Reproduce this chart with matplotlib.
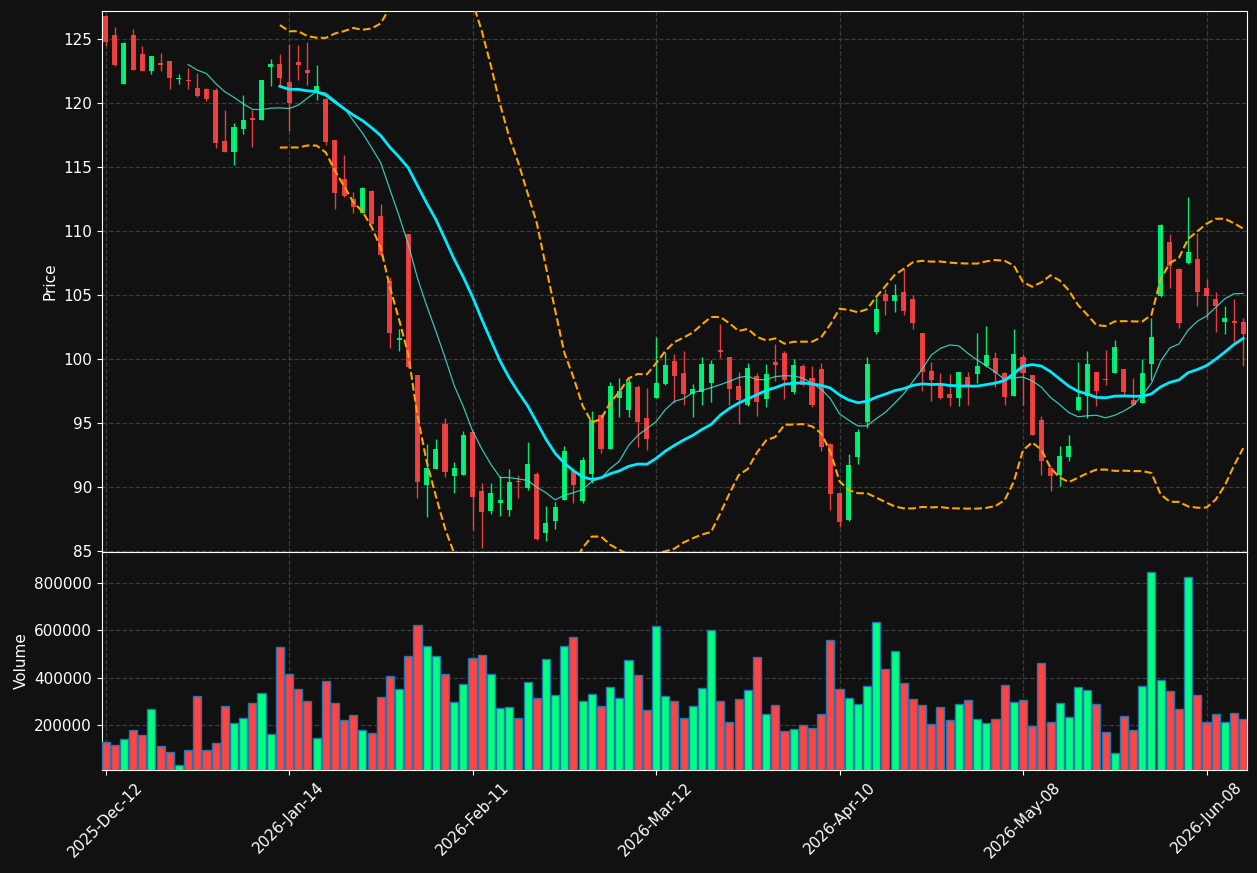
import numpy as np
import pandas as pd
import matplotlib
matplotlib.use("Agg")
import matplotlib.pyplot as plt
from matplotlib.ticker import FuncFormatter, FixedLocator

opens = [126.82, 125.33, 121.52, 125.33, 123.83, 122.53, 123.15, 123.29, 121.88, 121.82,
         121.20, 121.12, 121.04, 117.04, 116.20, 118.02, 118.84, 118.70, 122.86, 123.07,
         121.66, 123.21, 122.58, 120.90, 120.36, 117.13, 114.06, 112.48, 111.45, 113.13,
         111.18, 106.10, 101.49, 109.77, 98.77, 90.22, 91.44, 94.92, 90.90, 90.98,
         94.29, 89.68, 88.18, 88.81, 88.24, 90.52, 89.92, 91.03, 86.42, 87.37,
         89.00, 91.30, 88.91, 91.03, 95.65, 93.02, 97.01, 96.06, 97.82, 95.38,
         97.01, 98.09, 99.86, 98.91, 97.28, 97.47, 98.15, 100.73, 100.18, 97.90,
         96.46, 98.69, 96.87, 99.78, 100.48, 97.47, 99.45, 98.50, 99.23, 93.42,
         89.54, 87.42, 92.39, 95.11, 102.17, 105.07, 104.53, 105.23, 104.72, 102.03,
         99.12, 98.01, 97.28, 97.01, 98.64, 98.83, 99.45, 100.13, 98.91, 97.14,
         100.18, 98.77, 95.24, 91.50, 90.98, 92.39, 96.06, 97.14, 98.99, 98.45,
         98.96, 99.23, 96.82, 96.60, 99.67, 104.96, 109.14, 107.05, 107.54, 107.87,
         105.56, 104.69, 102.93, 102.98, 102.90]
highs = [126.90, 125.92, 124.75, 125.76, 124.43, 123.70, 123.89, 123.30, 122.26, 122.72,
         122.39, 121.15, 121.17, 119.49, 118.46, 120.63, 119.49, 121.85, 123.43, 123.83,
         124.65, 124.57, 124.76, 122.99, 120.40, 117.15, 115.93, 113.03, 113.45, 113.24,
         112.16, 106.43, 102.36, 109.80, 98.80, 93.40, 93.75, 95.38, 91.98, 94.43,
         94.30, 90.30, 90.30, 90.90, 91.44, 91.00, 93.53, 91.17, 88.51, 88.86,
         93.26, 91.50, 92.34, 96.00, 95.70, 98.23, 98.50, 98.55, 97.96, 97.77,
         101.76, 100.54, 100.40, 100.62, 98.09, 100.18, 99.91, 102.79, 100.20, 98.99,
         99.72, 98.91, 99.67, 101.22, 100.62, 99.99, 99.64, 99.45, 99.72, 93.45,
         89.55, 92.58, 94.56, 100.18, 104.88, 105.48, 105.91, 107.05, 105.02, 102.05,
         99.80, 98.91, 98.83, 99.00, 98.99, 102.08, 102.57, 100.54, 99.04, 102.36,
         100.40, 98.80, 95.57, 91.55, 93.21, 94.07, 99.80, 100.62, 99.00, 100.75,
         101.49, 99.25, 98.50, 99.99, 103.25, 110.53, 109.77, 107.10, 112.70, 109.90,
         106.24, 105.29, 104.20, 104.74, 103.25]
lows = [124.43, 122.88, 121.50, 122.60, 122.50, 122.31, 122.53, 121.12, 121.52, 121.12,
        120.50, 120.14, 116.47, 116.15, 115.14, 117.56, 116.56, 118.68, 121.31, 121.44,
        117.86, 121.85, 121.39, 120.28, 116.75, 111.75, 112.70, 111.45, 111.40, 110.55,
        108.10, 100.89, 100.62, 99.30, 89.13, 87.72, 91.40, 90.84, 89.54, 90.95,
        86.63, 85.25, 87.91, 87.77, 87.77, 89.13, 89.76, 85.87, 85.79, 86.77,
        88.98, 88.78, 88.78, 90.35, 92.66, 93.00, 95.51, 95.46, 93.12, 92.93,
        96.98, 97.96, 96.55, 96.46, 95.46, 96.41, 96.68, 100.07, 96.41, 94.97,
        96.33, 95.57, 96.27, 98.28, 96.87, 97.28, 97.90, 96.27, 92.85, 88.24,
        86.88, 87.40, 91.85, 94.62, 101.98, 103.44, 103.66, 103.47, 102.36, 97.50,
        96.73, 96.87, 96.33, 96.33, 96.46, 98.17, 99.40, 97.82, 96.46, 97.10,
        96.46, 94.05, 90.98, 89.68, 90.14, 92.04, 96.00, 95.38, 96.33, 97.96,
        98.90, 97.28, 96.43, 96.55, 98.36, 104.90, 105.56, 102.44, 107.41, 104.15,
        103.12, 102.17, 101.95, 101.35, 99.45]
closes = [124.78, 123.02, 124.70, 122.61, 122.53, 123.70, 123.02, 121.99, 121.96, 121.77,
          120.57, 120.33, 116.88, 116.20, 118.13, 118.70, 118.65, 121.82, 123.07, 121.99,
          120.03, 123.02, 122.37, 121.33, 116.96, 112.97, 112.75, 111.89, 113.41, 110.58,
          108.17, 102.03, 101.70, 99.37, 90.44, 91.50, 92.99, 91.22, 91.50, 94.07,
          89.27, 88.10, 89.59, 89.00, 90.41, 90.41, 91.82, 85.96, 87.20, 88.45,
          92.80, 90.16, 92.12, 95.24, 93.02, 97.90, 97.50, 98.23, 95.11, 93.80,
          98.15, 99.53, 98.72, 97.28, 97.69, 99.67, 99.64, 100.56, 97.69, 96.79,
          99.31, 96.68, 98.85, 99.59, 98.36, 99.53, 97.96, 96.46, 93.12, 89.49,
          87.31, 91.77, 94.35, 99.67, 103.93, 104.55, 104.99, 103.79, 102.84, 99.04,
          98.36, 97.01, 97.01, 98.99, 98.01, 99.45, 100.32, 98.91, 97.09, 100.40,
          98.91, 94.10, 92.07, 90.90, 92.45, 93.21, 97.06, 99.67, 97.55, 98.36,
          100.94, 97.41, 96.46, 98.91, 101.76, 110.45, 107.32, 102.84, 108.36, 105.29,
          104.96, 104.15, 103.22, 102.84, 101.98]
volumes = [127700, 114900, 140400, 177300, 157400, 268100, 110600, 85100, 29800, 93600,
           323400, 93600, 123400, 280800, 208500, 229800, 293600, 336200, 161700, 527600,
           417000, 353200, 302100, 144700, 387200, 293600, 221300, 242500, 178700, 166000,
           319100, 408500, 353200, 489300, 621300, 531900, 489300, 417000, 297900, 374500,
           480800, 493600, 417000, 272300, 276600, 229800, 383000, 314900, 476600, 327700,
           531900, 570200, 302100, 331900, 278000, 361700, 314900, 472300, 412800, 263800,
           617000, 323400, 302100, 229800, 280800, 357400, 600000, 302100, 212800, 310600,
           348900, 485100, 246800, 285100, 174500, 183000, 200000, 187200, 246800, 557400,
           353200, 314900, 289400, 366000, 634000, 438300, 510600, 378700, 310600, 285100,
           204200, 276600, 221300, 289400, 306400, 225500, 208500, 225500, 370200, 297900,
           306400, 195700, 463800, 212800, 293600, 234000, 361700, 348900, 289400, 170200,
           80800, 238300, 178700, 366000, 846800, 391500, 344700, 268100, 825500, 327700,
           212800, 246800, 212800, 251100, 225500]
tick_labels = ['2025-Dec-12', '2026-Jan-14', '2026-Feb-11', '2026-Mar-12',
               '2026-Apr-10', '2026-May-08', '2026-Jun-08']
tick_every = 20

BG = '#111111'
UP = '#00ff7f'
DOWN = '#ff4444'

o = np.array(opens); h = np.array(highs); l = np.array(lows); c = np.array(closes)
v = np.array(volumes, dtype=float)
n = len(c)
x = np.arange(n)
up = c >= o

cs = pd.Series(c)
ma10 = cs.rolling(10).mean()
ma20 = cs.rolling(20).mean()
sd20 = cs.rolling(20).std(ddof=0)
bb_up = ma20 + 2 * sd20
bb_lo = ma20 - 2 * sd20

fig = plt.figure(figsize=(12.57, 8.73), dpi=100, facecolor=BG)
ax = fig.add_axes([0.0809, 0.3677, 0.9109, 0.6197], facecolor=BG)
axv = fig.add_axes([0.0809, 0.1180, 0.9109, 0.2497], facecolor=BG, sharex=ax)

colors = np.where(up, UP, DOWN)
ax.vlines(x, l, h, colors=colors, linewidth=1.0, alpha=0.9, zorder=2)
body_bot = np.minimum(o, c)
body_h = np.maximum(np.abs(c - o), 0.06)
ax.bar(x, body_h, bottom=body_bot, width=0.55, color=colors, alpha=0.9,
       linewidth=0, zorder=3)

ax.plot(x, ma10, color='#40e0d0', linewidth=0.9, alpha=0.85, zorder=4)
ax.plot(x, ma20, color='#00eaff', linewidth=2.0, zorder=5)
ax.plot(x, bb_up, color='orange', linestyle='--', linewidth=1.5, zorder=4)
ax.plot(x, bb_lo, color='orange', linestyle='--', linewidth=1.5, zorder=4)

axv.bar(x, v, width=0.88, color=colors, edgecolor='#1f77b4', linewidth=1.0, zorder=3)

ax.set_xlim(-0.42, n - 1 + 0.38)
ax.set_ylim(84.95, 127.2)
axv.set_ylim(0.3 * v.min(), 1.1 * v.max())

ax.set_yticks(np.arange(85, 126, 5))
axv.set_yticks([200000, 400000, 600000, 800000])
axv.yaxis.set_major_formatter(FuncFormatter(lambda val, p: f"{int(val)}"))

tick_pos = [i * tick_every for i in range(len(tick_labels))]
axv.xaxis.set_major_locator(FixedLocator(tick_pos))
axv.set_xticklabels(tick_labels, rotation=45, ha='center')
plt.setp(ax.get_xticklabels(), visible=False)

for a in (ax, axv):
    a.grid(True, color='#3a3a3a', linestyle='--', linewidth=0.9)
    a.set_axisbelow(True)
    for s in a.spines.values():
        s.set_color('white')
    a.tick_params(colors='white', labelsize=11)

ax.set_ylabel('Price', color='white', fontsize=11)
axv.set_ylabel('Volume', color='white', fontsize=11)

fig.savefig('out.png', dpi=100, facecolor=BG)
